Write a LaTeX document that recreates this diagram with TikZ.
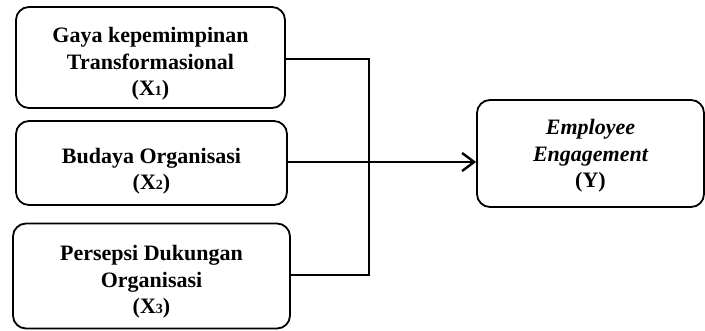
\documentclass[tikz,border=0pt]{standalone}
\usepackage{fontspec}
\setmainfont{Liberation Serif}
\usetikzlibrary{arrows.meta}
\tikzset{
  box/.style={draw, line width=1.8pt, rounded corners=13pt, inner sep=0pt},
  lbl/.style={align=center, font=\fontsize{22}{26.5}\selectfont\bfseries, inner sep=0pt},
  conn/.style={line width=2.6pt},
}
\newcommand{\sbs}[1]{{\fontsize{14}{14}\selectfont #1}}
\begin{document}
\begin{tikzpicture}[x=1pt,y=-1pt]
\useasboundingbox (0,0) rectangle (705,330);
\node[box, minimum width=269pt, minimum height=101pt] (b1) at (150.5,57.5) {};
\node[box, minimum width=271pt, minimum height=84pt] (b2) at (151.5,163) {};
\node[box, minimum width=277pt, minimum height=105pt] (b3) at (151.5,276) {};
\node[box, minimum width=227pt, minimum height=107pt] (y) at (590.5,153.5) {};
\node[lbl] (t1) at (150.5,64) {Gaya kepemimpinan\\Transformasional\\(X\sbs{1})};
\node[lbl] (t2) at (151.5,171) {Budaya Organisasi\\(X\sbs{2})};
\node[lbl] (t3) at (151.5,282) {Persepsi Dukungan\\Organisasi\\(X\sbs{3})};
\node[lbl] (ty) at (590.5,156) {\itshape Employee\\\itshape Engagement\\(Y)};
\coordinate (jt) at (369,59);
\coordinate (jb) at (369,275);
\draw[conn] (b1.east |- jt) -- (jt) -- (jb) -- (b3.east |- jb);
\draw[conn, -{Straight Barb[length=12pt,width=18pt,line width=2.4pt]}] (b2.east |- 0,162) -- (y.west |- 0,162);
\end{tikzpicture}
\end{document}
